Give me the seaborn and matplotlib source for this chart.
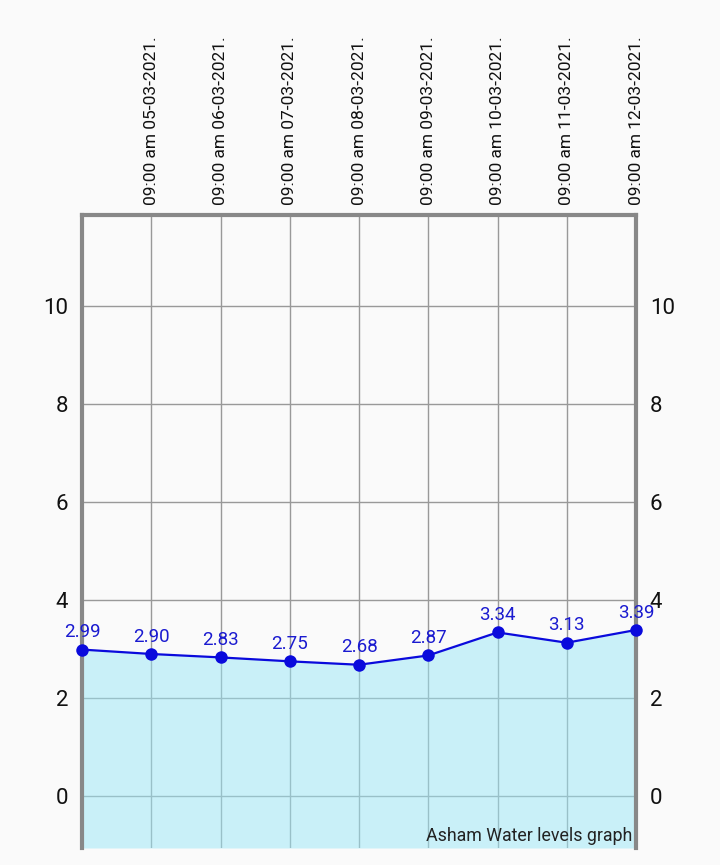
import numpy as np
import pandas as pd
import matplotlib
matplotlib.use("Agg")
import matplotlib.pyplot as plt
import seaborn as sns

# --- data ---
dates = ['04-03-2021', '05-03-2021', '06-03-2021', '07-03-2021', '08-03-2021',
         '09-03-2021', '10-03-2021', '11-03-2021', '12-03-2021']
levels = [2.99, 2.90, 2.83, 2.75, 2.68, 2.87, 3.34, 3.13, 3.39]
# first point has no label on the reference
tick_labels = [''] + ['09:00 am ' + d + '.' for d in dates[1:]]
y_ticks = [0, 2, 4, 6, 8, 10]

df = pd.DataFrame({'idx': np.arange(len(levels)), 'level': levels})

sns.set_style('white')
plt.rcParams['font.family'] = ['Roboto', 'DejaVu Sans']

BG = '#fafafa'
fig = plt.figure(figsize=(7.2, 8.65), dpi=100, facecolor=BG)
ax = fig.add_axes([82/720, 17/865, 554/720, 633/865])
ax.set_facecolor(BG)

ymin, ymax = -1.06, 11.86
ax.set_xlim(0, len(levels) - 1)
ax.set_ylim(ymin, ymax)

# grid
ax.set_xticks(df['idx'])
ax.set_yticks(y_ticks)
ax.grid(True, color='#999999', linewidth=1.0)
ax.set_axisbelow(True)

# area + line
ax.fill_between(df['idx'], df['level'], ymin, color='#9ae8f8', alpha=0.5, linewidth=0, zorder=2)
sns.lineplot(data=df, x='idx', y='level', ax=ax, color='#0a0adc', linewidth=1.6,
             marker='o', markersize=9, markeredgewidth=0, zorder=4, clip_on=False)

for i, v in zip(df['idx'], df['level']):
    ax.annotate(f'{v:.2f}', (i, v), xytext=(0, 6), textcoords='offset points',
                ha='center', va='bottom', color='#1a1ad0', fontsize=13.5, zorder=5)

# top tick labels
ax.xaxis.tick_top()
ax.set_xticklabels(tick_labels, rotation=90, fontsize=12.5, color='#111111')
ax.tick_params(axis='x', length=0, pad=7)

# y labels both sides
ax.set_yticklabels([str(t) for t in y_ticks], fontsize=16, color='#111111')
ax.tick_params(axis='y', length=0, pad=10, labelleft=True, labelright=True)

ax.set_xlabel('')
ax.set_ylabel('')

for side in ['left', 'right', 'top']:
    ax.spines[side].set_color('#888888')
    ax.spines[side].set_linewidth(3)
ax.spines['bottom'].set_visible(False)

ax.text(0.993, 0.004, 'Asham Water levels graph', transform=ax.transAxes,
        ha='right', va='bottom', fontsize=12.8, color='#222222', zorder=6)

fig.savefig('out.png', dpi=100, facecolor=BG)
